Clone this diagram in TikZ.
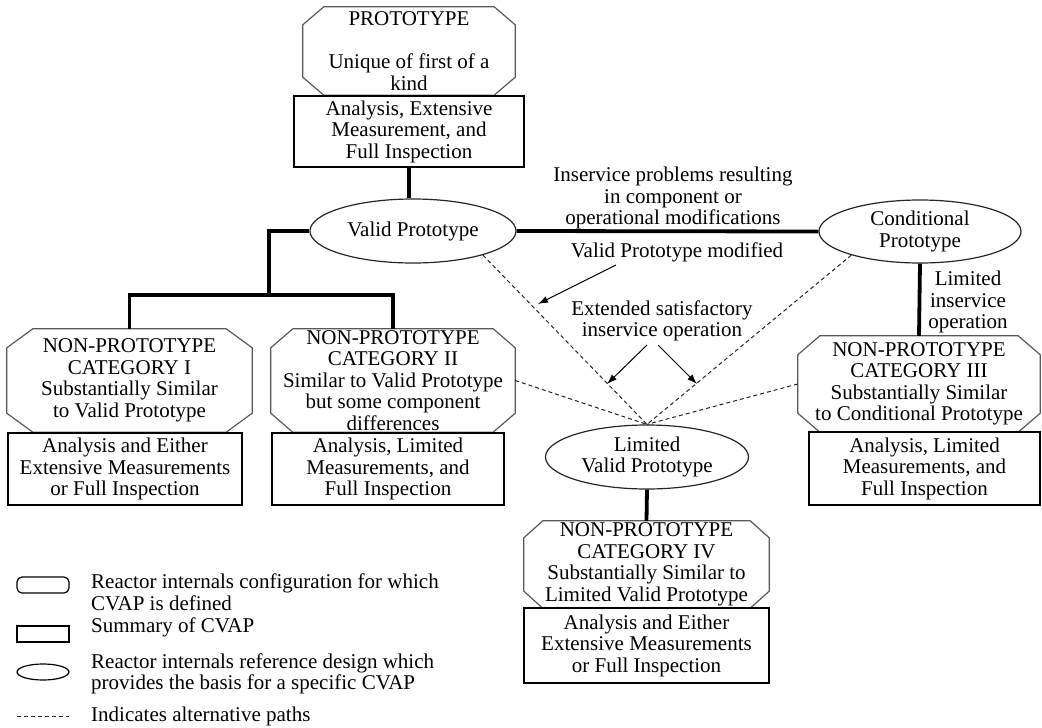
\documentclass[tikz,border=0pt]{standalone}
\usepackage{fontspec}
\setmainfont{Liberation Serif}
\usetikzlibrary{arrows.meta,shapes.geometric}
\newcommand\octoutline[3]{%
  \draw[octline] ([xshift=#2pt]#1.north west) -- ([xshift=-#2pt]#1.north east)
    -- ([yshift=-#3pt]#1.north east) -- ([yshift=#3pt]#1.south east)
    -- ([xshift=-#2pt]#1.south east) -- ([xshift=#2pt]#1.south west)
    -- ([yshift=#3pt]#1.south west) -- ([yshift=-#3pt]#1.north west) -- cycle;}
\begin{document}
\begin{tikzpicture}[x=1pt,y=-1pt,
  every node/.style={font=\fontsize{21}{21.5}\selectfont, align=center, inner sep=0pt, text=black},
  octa/.style={rectangle, draw=none},
  octline/.style={draw=black!65, line width=1.2pt},
  sumbox/.style={rectangle, draw=black, line width=1.2pt},
  refell/.style={ellipse, draw=black!85, line width=1.2pt},
  link/.style={line width=3.8pt, line cap=butt, line join=miter},
  alt/.style={draw=black!85, line width=1pt, dash pattern=on 4pt off 3pt},
  note/.style={-{Latex[length=10pt,width=7pt]}, line width=1pt},
  legtext/.style={anchor=west, align=left}
]
\useasboundingbox (0,0) rectangle (1042,728);

% prototype
\node[octa, minimum width=212, minimum height=88] (proto) at (409,51)
  {PROTOTYPE\\[21.5pt]Unique of first of a\\kind};
\octoutline{proto}{21}{18}
\node[sumbox, minimum width=230, minimum height=71] (protobox) at (409,131.5)
  {Analysis, Extensive\\Measurement, and\\Full Inspection};

% reference designs
\node[refell, minimum width=206, minimum height=64] (vp) at (413,231) {Valid Prototype};
\node[refell, minimum width=202, minimum height=63] (cp) at (920,231.5) {Conditional\\Prototype};
\node[refell, minimum width=203, minimum height=64] (lvp) at (647,457) {Limited\\Valid Prototype};

% categories
\node[octa, minimum width=245, minimum height=103] (cat1) at (129.5,380.5)
  {NON-PROTOTYPE\\CATEGORY I\\Substantially Similar\\to Valid Prototype};
\octoutline{cat1}{26}{19}
\node[sumbox, minimum width=234, minimum height=72] (cat1box) at (125,469)
  {Analysis and Either\\Extensive Measurements\\or Full Inspection};

\node[octa, minimum width=244, minimum height=103] (cat2) at (393,380.5)
  {NON-PROTOTYPE\\CATEGORY II\\Similar to Valid Prototype\\but some component\\differences};
\octoutline{cat2}{22}{19}
\node[sumbox, minimum width=232, minimum height=72] (cat2box) at (388,469)
  {Analysis, Limited\\Measurements, and\\Full Inspection};

\node[octa, minimum width=242, minimum height=96] (cat3) at (919,384)
  {NON-PROTOTYPE\\CATEGORY III\\Substantially Similar\\to Conditional Prototype};
\octoutline{cat3}{22}{19}
\node[sumbox, minimum width=231, minimum height=73] (cat3box) at (924.5,468.5)
  {Analysis, Limited\\Measurements, and\\Full Inspection};

\node[octa, minimum width=245, minimum height=87] (cat4) at (646.5,564.5)
  {NON-PROTOTYPE\\CATEGORY IV\\Substantially Similar to\\Limited Valid Prototype};
\octoutline{cat4}{19}{17}
\node[sumbox, minimum width=245, minimum height=75] (cat4box) at (646.5,645.5)
  {Analysis and Either\\Extensive Measurements\\or Full Inspection};

% labels
\node (lbl1) at (673,198) {Inservice problems resulting\\in component or\\operational modifications};
\node (lbl2) at (677,252) {Valid Prototype modified};
\node (lbl3) at (662,321) {Extended satisfactory\\inservice operation};
\node (lbl4) at (968,302) {Limited\\inservice\\operation};

% solid connectors
\coordinate (j) at (269,295);
\draw[link] (protobox.south) -- (protobox.south |- vp.north);
\draw[link] (vp.west) -| (j);
\draw[link] (cat1.north) |- (j) -| (cat2.north);
\draw[link] (vp.east) -- (cp.west);
\draw[link] (cp.south) -- (cat3.north);
\draw[link] (lvp.south) -- (cat4.north);

% alternative paths
\draw[alt] (vp.-19) -- (lvp.north);
\draw[alt] (cp.199) -- (lvp.north);
\draw[alt] (cat2.east) -- (lvp.north);
\draw[alt] (cat3.west) -- (lvp.north);

% note arrows
\coordinate (a1s) at (616,265); \coordinate (a1e) at (538,304);
\coordinate (a2s) at (647,345); \coordinate (a2e) at (607,384);
\coordinate (a3s) at (658,345); \coordinate (a3e) at (697,384);
\draw[note] (a1s) -- (a1e);
\draw[note] (a2s) -- (a2e);
\draw[note] (a3s) -- (a3e);

% legend
\node[draw=black, line width=1.2pt, rounded corners=5pt, minimum width=52, minimum height=16] (lg1) at (43,585) {};
\node[legtext] (lt1) at (91,592.5) {Reactor internals configuration for which\\CVAP is defined};
\node[draw=black, line width=1.2pt, minimum width=52, minimum height=16] (lg2) at (43,634) {};
\node[legtext] (lt2) at (91,627) {Summary of CVAP};
\node[ellipse, draw=black, line width=1.2pt, minimum width=52, minimum height=16] (lg3) at (43,672) {};
\node[legtext] (lt3) at (91,674) {Reactor internals reference design which\\provides the basis for a specific CVAP};
\coordinate (lg4a) at (17,716); \coordinate (lg4b) at (69,716);
\draw[alt] (lg4a) -- (lg4b);
\node[legtext] (lt4) at (91,716) {Indicates alternative paths};
\end{tikzpicture}
\end{document}
